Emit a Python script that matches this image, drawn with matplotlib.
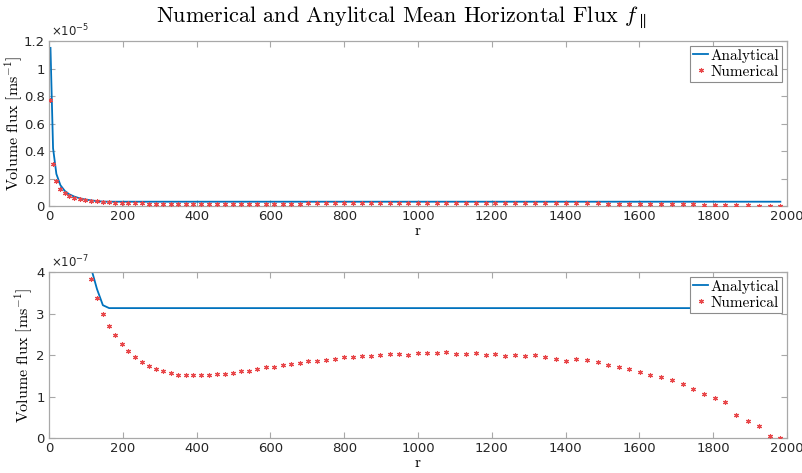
import numpy as np
import matplotlib
matplotlib.use("Agg")
import matplotlib.pyplot as plt
from matplotlib.ticker import FuncFormatter, MultipleLocator

plt.rcParams['mathtext.fontset'] = 'cm'
plt.rcParams['axes.unicode_minus'] = False

# ---- data ----
r_num = [4, 11, 20, 31, 43, 55, 69, 83, 97, 113, 130, 146, 163, 180, 198, 215, 233,
         252, 271, 290, 310, 330, 350, 370, 391, 411, 433, 454, 476, 498, 519, 541,
         564, 587, 610, 633, 656, 680, 703, 727, 751, 775, 799, 823, 848, 873, 898,
         923, 949, 974, 999, 1025, 1051, 1077, 1103, 1130, 1156, 1183, 1209, 1236,
         1263, 1290, 1318, 1345, 1373, 1400, 1428, 1459, 1488, 1516, 1545, 1573,
         1601, 1630, 1659, 1687, 1717, 1746, 1775, 1804, 1833, 1863, 1894, 1923,
         1953, 1982]
# numerical flux, units of 1e-7 m/s
flux_num = [76.8, 30.9, 18.1, 12.3, 9.4, 7.4, 6.1, 5.1, 4.4, 3.82, 3.37, 3.00, 2.71,
            2.47, 2.26, 2.10, 1.96, 1.83, 1.74, 1.66, 1.61, 1.56, 1.53, 1.52, 1.51,
            1.51, 1.52, 1.54, 1.55, 1.56, 1.61, 1.62, 1.66, 1.70, 1.71, 1.75, 1.78,
            1.81, 1.85, 1.86, 1.87, 1.91, 1.94, 1.94, 1.97, 1.98, 2.00, 2.03, 2.02,
            2.01, 2.06, 2.06, 2.06, 2.07, 2.02, 2.03, 2.06, 2.00, 2.02, 1.98, 2.01,
            1.98, 2.00, 1.96, 1.90, 1.85, 1.91, 1.87, 1.82, 1.77, 1.70, 1.66, 1.58,
            1.53, 1.46, 1.39, 1.30, 1.18, 1.07, 0.96, 0.86, 0.56, 0.40, 0.30, 0.06,
            0.01]
r_ana = [4, 11, 20, 31, 43, 55, 69, 83, 97, 113, 130, 146, 163, 1982]
flux_ana = [115.0, 42.0, 23.3, 15.1, 10.9, 8.5, 6.8, 5.6, 4.8, 4.13, 3.59, 3.20,
            3.13, 3.13]

unit = 1e-7
num = np.array(flux_num) * unit
ana = np.array(flux_ana) * unit

title = r"Numerical and Anylitcal Mean Horizontal Flux $f_{\parallel}$"
ylabel = r"Volume flux [ms$^{-1}$]"
xlabel = "r"
x_ticks = list(range(0, 2001, 200))

fig = plt.figure(figsize=(8.03, 4.73), dpi=100)
W, H = 803, 473
def rect(l, t, r, b):
    return [l / W, 1 - b / H, (r - l) / W, (b - t) / H]

ax1 = fig.add_axes(rect(49, 41, 787, 206))
ax2 = fig.add_axes(rect(49, 272, 787, 438))

spine_col = '#a8a8a8'
tick_col = '#262626'
line_col = '#0072BD'
serif = 'cmr10'

def style(ax, ymax, step, scale, exp_txt, label_x):
    ax.plot(r_ana, ana, color=line_col, lw=1.3, label='Analytical', zorder=2)
    ax.plot(r_num, num, ls='none', marker=(6, 2, 0), ms=3.6, mew=0.8,
            color='#e8474a', label='Numerical', zorder=3)
    ax.set_xlim(0, 2000)
    ax.set_ylim(0, ymax)
    ax.set_xticks(x_ticks)
    ax.yaxis.set_major_locator(MultipleLocator(step))
    ax.yaxis.set_major_formatter(FuncFormatter(lambda v, p: f"{v / scale:g}"))
    for s in ax.spines.values():
        s.set_color(spine_col)
        s.set_linewidth(0.9)
    ax.tick_params(direction='in', top=True, right=True, length=4, width=0.8,
                   color=spine_col, labelcolor=tick_col, labelsize=9.5, pad=3)
    for lab in ax.get_xticklabels() + ax.get_yticklabels():
        lab.set_fontfamily('DejaVu Sans')
    ax.set_ylabel(ylabel, fontfamily=serif, fontsize=11.5)
    ax.yaxis.set_label_coords((label_x - 49) / 738, 0.5)
    ax.set_xlabel(xlabel, fontfamily=serif, fontsize=11, labelpad=1)
    ax.text(0.003, 1.012, exp_txt, transform=ax.transAxes, fontsize=8.5,
            color=tick_col, ha='left', va='bottom', math_fontfamily='dejavusans')
    leg = ax.legend(loc='upper right', fancybox=False, framealpha=1,
                    edgecolor='#8c8c8c', borderaxespad=0.3, handlelength=1.0,
                    handletextpad=0.15, borderpad=0.2, labelspacing=0.15,
                    prop={'family': serif, 'size': 11})
    leg.get_frame().set_linewidth(0.8)

style(ax1, 1.2e-5, 0.2e-5, 1e-5, r'$\times10^{-5}$', 25)
style(ax2, 4e-7, 1e-7, 1e-7, r'$\times10^{-7}$', 35)

fig.text(0.5, 0.962, title, ha='center', va='center', fontfamily=serif,
         fontsize=16, color='black')

fig.savefig('out.png', dpi=100)
